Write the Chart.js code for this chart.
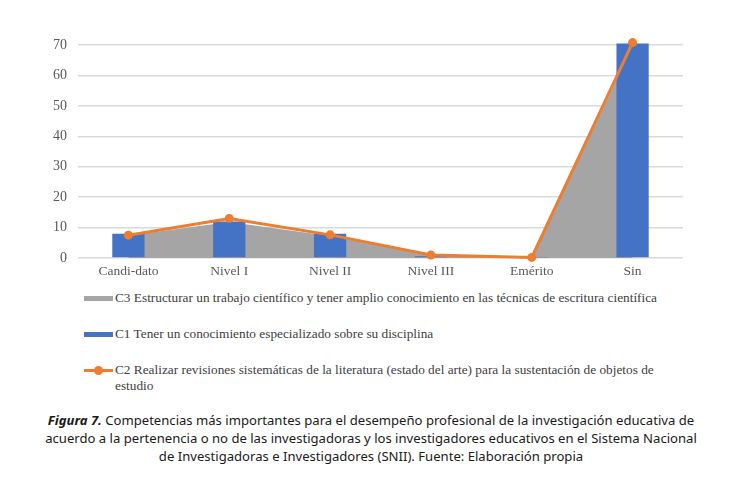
<!DOCTYPE html>
<html>
<head>
<meta charset="utf-8">
<script src="https://cdn.jsdelivr.net/npm/chart.js@4"></script>
<style>
  body { margin: 0; background: #fff; width: 742px; height: 479px; position: relative; overflow: hidden; }
  #wrap { position: absolute; left: 0; top: 0; width: 742px; height: 285px; }
  #legend { position: absolute; left: 84px; top: 290px; width: 600px; font-family: "Liberation Serif", "Times New Roman", serif; font-size: 13.3px; color: #404040; }
  .item { display: flex; align-items: flex-start; margin-bottom: 20px; line-height: 15.5px; }
  .sw { flex: 0 0 29px; height: 16px; position: relative; margin-right: 2px; }
  .sw .bar { position: absolute; left: 0; right: 0; top: 6px; height: 5px; }
  .sw .ln { position: absolute; left: 0; right: 0; top: 7px; height: 3px; }
  .sw .pt { position: absolute; left: 10px; top: 4px; width: 9px; height: 9px; border-radius: 50%; }
  .txt { flex: 0 0 550px; }
  #caption { position: absolute; left: 0; top: 411px; width: 742px; text-align: center; font-family: "Noto Sans", sans-serif; font-size: 13.1px; line-height: 18px; color: #1a1a1a; }
</style>
</head>
<body>
<div id="wrap"><canvas id="chart"></canvas></div>
<div id="legend"></div>
<div id="caption"><b><i>Figura 7.</i></b> Competencias más importantes para el desempeño profesional de la investigación educativa de<br>acuerdo a la pertenencia o no de las investigadoras y los investigadores educativos en el Sistema Nacional<br>de Investigadoras e Investigadores (SNII). Fuente: Elaboración propia</div>
<script>
const categories = ['Candi-dato', 'Nivel I', 'Nivel II', 'Nivel III', 'Emérito', 'Sin'];
const c3Values = [7.4, 11.8, 7.2, 0.9, 0.1, 69.5];
const c1Values = [8, 12, 8, 0.6, 0.2, 70.5];
const c2Values = [7.5, 13, 7.6, 1, 0.2, 70.8];
const yTicks = [0, 10, 20, 30, 40, 50, 60, 70];

const labelC3 = 'C3 Estructurar un trabajo científico y tener amplio conocimiento en las técnicas de escritura científica';
const labelC1 = 'C1 Tener un conocimiento especializado sobre su disciplina';
const labelC2 = 'C2 Realizar revisiones sistemáticas de la literatura (estado del arte) para la sustentación de objetos de estudio';

const data = {
    labels: categories,
    datasets: [{
        type: 'line',
        label: labelC3,
        data: c3Values,
        borderWidth: 0,
        borderColor: '#a5a5a5',
        backgroundColor: '#a5a5a5',
        fill: 'origin',
        pointRadius: 0,
        tension: 0,
        clip: false,
        order: 3
    }, {
        type: 'bar',
        label: labelC1,
        data: c1Values,
        backgroundColor: '#4472c4',
        barPercentage: 0.32,
        categoryPercentage: 1,
        clip: false,
        order: 2
    }, {
        type: 'line',
        label: labelC2,
        data: c2Values,
        borderColor: '#ed7d31',
        backgroundColor: '#ed7d31',
        borderWidth: 3,
        pointRadius: 4.5,
        pointBackgroundColor: '#ed7d31',
        pointBorderWidth: 0,
        fill: false,
        tension: 0,
        clip: false,
        order: 1
    }]
};

const config = {
    type: 'bar',
    data: data,
    options: {
        responsive: true,
        maintainAspectRatio: false,
        animation: false,
        layout: { padding: { left: 0, right: 59, top: 45, bottom: 0 } },
        plugins: { legend: { display: false }, tooltip: { enabled: false } },
        scales: {
            x: {
                offset: true,
                grid: { display: false, drawTicks: false },
                border: { display: false },
                ticks: {
                    color: '#595959',
                    font: { family: '"Liberation Serif", serif', size: 13.5 },
                    padding: 5,
                    maxRotation: 0
                },
                afterFit: function (scale) { scale.height = 27; }
            },
            y: {
                min: 0,
                max: 70,
                grid: { color: '#d9d9d9', lineWidth: 1.5, drawTicks: false },
                border: { display: false },
                afterBuildTicks: function (scale) {
                    scale.ticks = yTicks.map(v => ({ value: v }));
                },
                ticks: {
                    color: '#595959',
                    font: { family: '"Liberation Serif", serif', size: 14 },
                    padding: 11
                },
                afterFit: function (scale) { scale.width = 78; }
            }
        }
    }
};

var myChart = new Chart(document.getElementById('chart'), config);

// legend below the chart, same order as the reference
const legendOrder = [0, 1, 2];
const legend = document.getElementById('legend');
legendOrder.forEach(function (i) {
    const ds = myChart.data.datasets[i];
    const item = document.createElement('div');
    item.className = 'item';
    let sw = '<div class="sw">';
    if (ds.type === 'line' && !ds.fill) {
        sw += '<div class="ln" style="background:' + ds.borderColor + '"></div>';
        sw += '<div class="pt" style="background:' + ds.borderColor + '"></div>';
    } else {
        sw += '<div class="bar" style="background:' + ds.backgroundColor + '"></div>';
    }
    sw += '</div>';
    item.innerHTML = sw + '<div class="txt">' + ds.label + '</div>';
    legend.appendChild(item);
});
</script>
</body>
</html>
